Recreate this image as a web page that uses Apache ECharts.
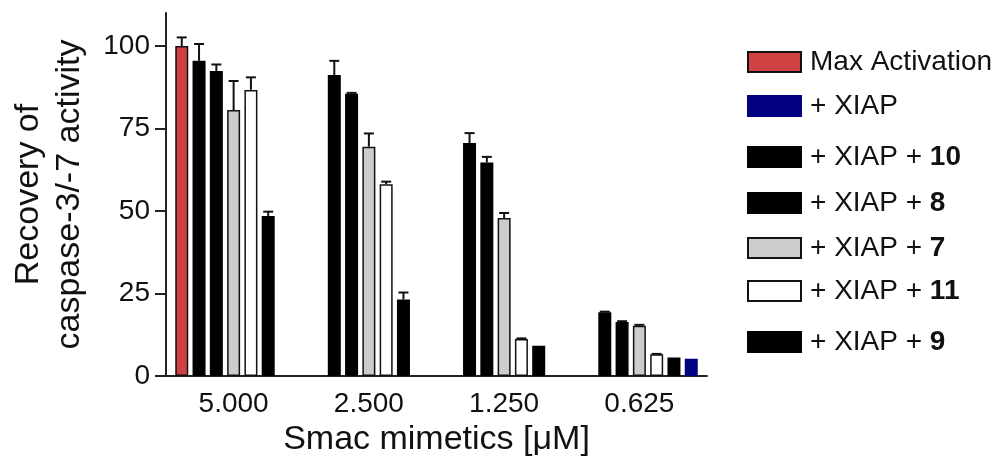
<!DOCTYPE html>
<html>
<head>
<meta charset="utf-8">
<script src="https://cdn.jsdelivr.net/npm/echarts@6/dist/echarts.min.js"></script>
<style>
html, body { margin:0; padding:0; background:#fff; }
#chart { width:1001px; height:462px; }
</style>
</head>
<body>
<div id="chart"></div>
<script>
// doses on the x axis
var doses = ['5.000', '2.500', '1.250', '0.625'];
var yTicks = [0, 25, 50, 75, 100];

// bar heights per series (null = no bar)
var maxAct = [100, null, null, null];
var xiap10 = [95.5, 91.2, 70.6, 19.3];
var xiap8  = [92.4, 85.5, 64.7, 16.4];
var xiap7  = [80.6, 69.5, 47.9, 15.2];
var xiap11 = [86.7, 58.1, 11.2, 6.6];
var xiap9  = [48.5, 23.2, 9.2, 5.6];
var xiap   = [null, null, null, 5.2];

// upper error (sd)
var errMax = [2.6, 0, 0, 0];
var err10  = [5.1, 4.3, 3.0, 0.2];
var err8   = [2.0, 0.3, 1.7, 0.2];
var err7   = [8.8, 4.0, 1.5, 0.3];
var err11  = [3.8, 0.8, 0.2, 0.1];
var err9   = [1.3, 2.1, 0, 0];
var errX   = [0, 0, 0, 0];

var legendOrder = ['Max Activation', '+ XIAP', '+ XIAP + 10', '+ XIAP + 8', '+ XIAP + 7', '+ XIAP + 11', '+ XIAP + 9'];
// vertical centre (px) of each legend row
var legendY = [62, 106, 157, 203, 248, 291, 342];

var FONT = '"Liberation Sans", Arial, sans-serif';
var barW = 13, gapRatio = 0.33;
var step = barW * (1 + gapRatio);

// slot order inside each dose group
var bars = [
	{name:'Max Activation', data:maxAct, err:errMax, color:'#d04144', border:'#111'},
	{name:'+ XIAP + 10', data:xiap10, err:err10, color:'#000', border:'#000'},
	{name:'+ XIAP + 8',  data:xiap8,  err:err8,  color:'#000', border:'#000'},
	{name:'+ XIAP + 7',  data:xiap7,  err:err7,  color:'#cccccc', border:'#111'},
	{name:'+ XIAP + 11', data:xiap11, err:err11, color:'#fff', border:'#111'},
	{name:'+ XIAP + 9',  data:xiap9,  err:err9,  color:'#000', border:'#000'},
	{name:'+ XIAP',      data:xiap,   err:errX,  color:'#000080', border:'#000080'}
];

var series = [];
var errData = [];
for (var s = 0; s < bars.length; s++) {
	var b = bars[s];
	series.push({
		name: b.name,
		type: 'bar',
		data: b.data,
		barWidth: barW,
		barGap: (gapRatio * 100) + '%',
		itemStyle: { color: b.color, borderColor: b.border, borderWidth: 1.5 },
		emphasis: { disabled: true }
	});
	for (var i = 0; i < doses.length; i++) {
		if (b.data[i] != null && b.err[i] > 0) {
			errData.push([i, s, b.data[i], b.err[i]]);
		}
	}
}

series.push({
	type: 'custom',
	data: errData,
	encode: { x: 0, y: 2 },
	z: 5,
	silent: true,
	renderItem: function (params, api) {
		var c = api.value(0), slot = api.value(1);
		var v = api.value(2), e = api.value(3);
		var off = (slot - (bars.length - 1) / 2) * step;
		var p0 = api.coord([c, v]);
		var p1 = api.coord([c, v + e]);
		var x = p0[0] + off;
		var st = { stroke: '#111', lineWidth: 2 };
		return {
			type: 'group',
			children: [
				{ type: 'line', shape: { x1: x, y1: p0[1], x2: x, y2: p1[1] }, style: st },
				{ type: 'line', shape: { x1: x - 5, y1: p1[1], x2: x + 5, y2: p1[1] }, style: st }
			]
		};
	}
});

// one legend per row so the uneven spacing can be kept
var legends = [];
for (var k = 0; k < legendOrder.length; k++) {
	legends.push({
		orient: 'vertical',
		left: 747,
		top: legendY[k] - 15,
		padding: 0,
		data: [legendOrder[k]],
		icon: 'rect',
		itemWidth: 53,
		itemHeight: 20,
		selectedMode: false,
		textStyle: {
			fontFamily: FONT, fontSize: 28, color: '#111', lineHeight: 30,
			padding: [0, 0, 0, 4],
			rich: {
				a: { fontFamily: FONT, fontSize: 28, color: '#111' },
				b: { fontFamily: FONT, fontSize: 28, color: '#111', fontWeight: 'bold' }
			}
		},
		formatter: function (name) {
			var m = name.match(/^(\+ XIAP \+ )(\d+)$/);
			if (m) return '{a|' + m[1] + '}{b|' + m[2] + '}';
			return name;
		}
	});
}

var chart = echarts.init(document.getElementById('chart'));
chart.setOption({
	animation: false,
	textStyle: { fontFamily: FONT, color: '#111' },
	grid: { left: 164, right: 294, top: 13, bottom: 86 },
	legend: legends,
	xAxis: {
		type: 'category',
		data: doses,
		name: 'Smac mimetics [\u03bcM]',
		nameLocation: 'middle',
		nameGap: 47,
		nameTextStyle: { fontFamily: FONT, fontSize: 34, color: '#111' },
		axisLine: { lineStyle: { color: '#222', width: 2 } },
		axisTick: { show: false },
		axisLabel: { fontFamily: FONT, fontSize: 28, color: '#111', margin: 14 }
	},
	yAxis: {
		type: 'value',
		min: 0,
		max: 110,
		interval: 25,
		name: 'Recovery of\ncaspase-3/-7 activity',
		nameLocation: 'middle',
		nameRotate: 90,
		nameGap: 76,
		nameTextStyle: { fontFamily: FONT, fontSize: 34, color: '#111', lineHeight: 41 },
		axisLine: { show: true, lineStyle: { color: '#222', width: 2 } },
		axisTick: { show: true, length: 11, lineStyle: { color: '#222', width: 2 }, customValues: yTicks },
		axisLabel: { fontFamily: FONT, fontSize: 28, color: '#111', margin: 16, customValues: yTicks },
		splitLine: { show: false }
	},
	series: series
});
</script>
</body>
</html>
